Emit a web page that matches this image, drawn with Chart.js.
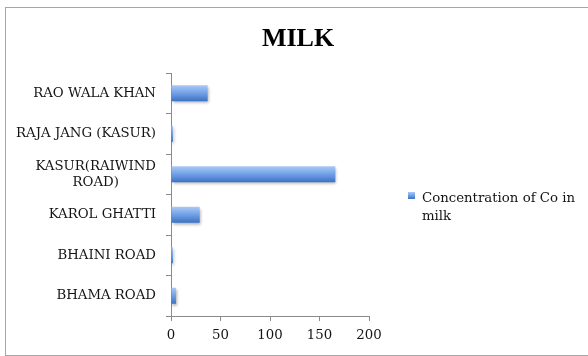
<!DOCTYPE html>
<html>
<head>
<meta charset="utf-8">
<script src="https://cdn.jsdelivr.net/npm/chart.js@4"></script>
<style>
  html, body { margin: 0; padding: 0; background: #ffffff; }
  #wrap { position: relative; width: 588px; height: 356px; }
</style>
</head>
<body>
<div id="wrap"><canvas id="c"></canvas></div>
<script>
// Sampling sites, listed in sheet order (drawn bottom to top)
const CATEGORIES = [
  'BHAMA ROAD',
  'BHAINI ROAD',
  'KAROL GHATTI',
  ['KASUR(RAIWIND', 'ROAD)'],
  'RAJA JANG (KASUR)',
  'RAO WALA KHAN'
];
// Cobalt concentration measured in milk at each site
const CO_IN_MILK = [5, 2, 29, 166, 2, 37];
const X_TICKS = [0, 50, 100, 150, 200];
const SERIES_LABEL = 'Concentration of Co in milk';
const TITLE = 'MILK';

const LABEL_FONT = '13.3px "DejaVu Serif"';
const TEXT_COLOR = '#141414';
const AXIS_COLOR = '#8a8a8a';
const CAT_PCT = 0.8;
const BAR_PCT = 0.494;

function barFill(ctx, top, bottom) {
  const g = ctx.createLinearGradient(0, top, 0, bottom);
  g.addColorStop(0, '#aac9f6');
  g.addColorStop(0.45, '#77a4e8');
  g.addColorStop(1, '#3a72c4');
  return g;
}

function wrapWords(ctx, text, maxWidth) {
  const words = text.split(' ');
  const lines = [];
  let line = '';
  for (const w of words) {
    const test = line ? line + ' ' + w : w;
    if (line && ctx.measureText(test).width > maxWidth) {
      lines.push(line);
      line = w;
    } else {
      line = test;
    }
  }
  if (line) lines.push(line);
  return lines;
}

// Outer frame and white page
const framePlugin = {
  id: 'frame',
  beforeDraw(chart) {
    const ctx = chart.ctx;
    ctx.save();
    ctx.fillStyle = '#ffffff';
    ctx.fillRect(0, 0, chart.width, chart.height);
    ctx.strokeStyle = '#a6a6a6';
    ctx.lineWidth = 1;
    ctx.strokeRect(5.5, 7.5, 620, 348);
    ctx.restore();
  }
};

// Soft drop shadow under the bars
const shadowPlugin = {
  id: 'barShadow',
  beforeDatasetsDraw(chart) {
    const ctx = chart.ctx;
    ctx.save();
    ctx.shadowColor = 'rgba(0,0,0,0.32)';
    ctx.shadowBlur = 3;
    ctx.shadowOffsetX = 1;
    ctx.shadowOffsetY = 2;
  },
  afterDatasetsDraw(chart) {
    chart.ctx.restore();
  }
};

// Title, category labels and the side legend
const textPlugin = {
  id: 'texts',
  afterDraw(chart) {
    const ctx = chart.ctx;
    const ys = chart.scales.y;
    ctx.save();

    // title
    ctx.fillStyle = '#000000';
    ctx.font = 'bold 26px "Liberation Serif"';
    ctx.textAlign = 'center';
    ctx.textBaseline = 'alphabetic';
    ctx.fillText(TITLE, 298, 46);

    // category labels, right-aligned against the axis; wrapped ones centred as a block
    ctx.font = LABEL_FONT;
    ctx.fillStyle = TEXT_COLOR;
    ctx.textBaseline = 'middle';
    const rightEdge = ys.left + ys.width - 15;
    const lineH = 16;
    ys.getLabels().forEach((lab, i) => {
      const y = ys.getPixelForValue(i);
      const lines = Array.isArray(lab) ? lab : [lab];
      const maxW = Math.max(...lines.map(l => ctx.measureText(l).width));
      const cx = rightEdge - maxW / 2;
      ctx.textAlign = 'center';
      lines.forEach((l, k) => {
        const ly = y + (k - (lines.length - 1) / 2) * lineH;
        ctx.fillText(l, cx, ly);
      });
    });

    // legend
    const ds = chart.data.datasets[0];
    const bx = 408, by = 192, bs = 7;
    ctx.fillStyle = barFill(ctx, by, by + bs);
    ctx.fillRect(bx, by, bs, bs);
    ctx.fillStyle = TEXT_COLOR;
    ctx.textAlign = 'left';
    ctx.textBaseline = 'alphabetic';
    const legendLines = wrapWords(ctx, ds.label, 160);
    legendLines.forEach((l, k) => {
      ctx.fillText(l, 422, 201.5 + k * 18.3);
    });

    ctx.restore();
  }
};

Chart.defaults.font.family = '"DejaVu Serif"';
Chart.defaults.font.size = 13.3;
Chart.defaults.color = TEXT_COLOR;

new Chart(document.getElementById('c'), {
  type: 'bar',
  data: {
    labels: CATEGORIES,
    datasets: [{
      label: SERIES_LABEL,
      data: CO_IN_MILK,
      categoryPercentage: CAT_PCT,
      barPercentage: BAR_PCT,
      borderWidth: 0,
      backgroundColor: (c) => {
        const chart = c.chart;
        const ys = chart.scales.y;
        if (!chart.chartArea || !ys || c.dataIndex === undefined) return '#5b8fdc';
        const mid = ys.getPixelForValue(c.dataIndex);
        const band = ys.height / CATEGORIES.length;
        const half = band * CAT_PCT * BAR_PCT / 2;
        return barFill(chart.ctx, mid - half, mid + half);
      }
    }]
  },
  options: {
    indexAxis: 'y',
    responsive: true,
    maintainAspectRatio: false,
    animation: false,
    devicePixelRatio: 1,
    layout: { padding: { top: 73, right: 219, left: 0, bottom: 0 } },
    plugins: {
      legend: { display: false },
      title: { display: false },
      tooltip: { enabled: false }
    },
    scales: {
      y: {
        type: 'category',
        reverse: true,
        offset: true,
        grid: {
          offset: true,
          drawOnChartArea: false,
          drawTicks: true,
          tickLength: 5,
          color: AXIS_COLOR
        },
        border: { display: true, color: AXIS_COLOR, width: 1 },
        ticks: { display: false },
        afterFit(scale) { scale.width = 171; }
      },
      x: {
        type: 'linear',
        min: X_TICKS[0],
        max: X_TICKS[X_TICKS.length - 1],
        afterBuildTicks(scale) { scale.ticks = X_TICKS.map(v => ({ value: v })); },
        grid: {
          drawOnChartArea: false,
          drawTicks: true,
          tickLength: 5,
          color: AXIS_COLOR
        },
        border: { display: true, color: AXIS_COLOR, width: 1 },
        ticks: {
          padding: 7,
          color: TEXT_COLOR,
          font: { family: '"DejaVu Serif"', size: 13.3 }
        },
        afterFit(scale) { scale.height = 40; }
      }
    }
  },
  plugins: [framePlugin, shadowPlugin, textPlugin]
});
</script>
</body>
</html>
